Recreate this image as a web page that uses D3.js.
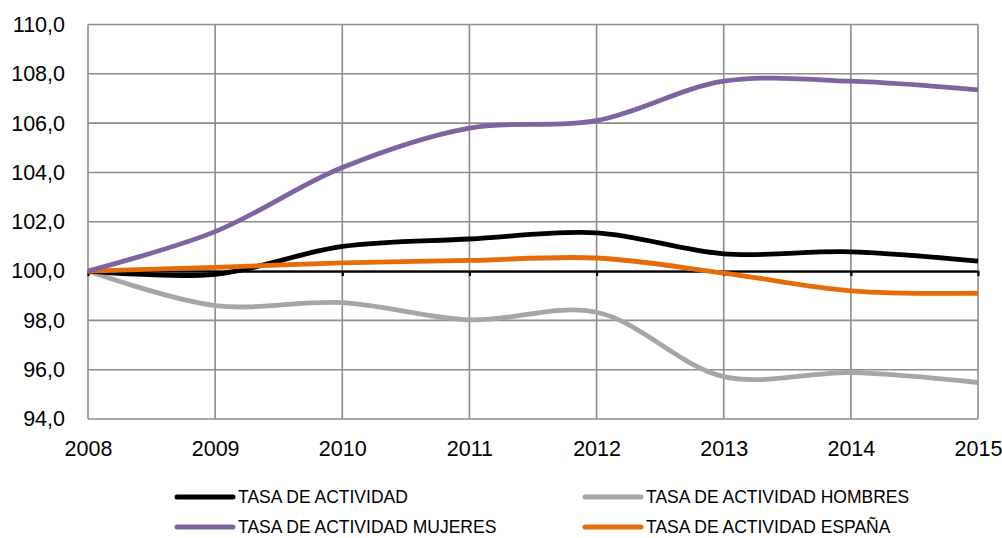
<!DOCTYPE html>
<meta charset="utf-8">
<title>Tasa de actividad</title>
<script src="https://cdn.jsdelivr.net/npm/d3@7"></script>
<style>
    body { margin: 0; background: #fff; }
    svg { font-family: "Liberation Sans", Arial, sans-serif; }
    .grid line { stroke: #8c8c8c; stroke-width: 1.6px; }
    .tick text { font-size: 21.5px; fill: #000; }
    .legend text { font-size: 17.5px; fill: #000; }
    .serie { fill: none; stroke-width: 4.8px; stroke-linecap: butt; }
</style>
<body>
<div id="chart"></div>
<script>
    // datos (indice 2008 = 100)
    var years = [2008, 2009, 2010, 2011, 2012, 2013, 2014, 2015];
    var actividad = [100.0, 99.87, 101.0, 101.3, 101.55, 100.7, 100.78, 100.4];
    var hombres   = [100.0, 98.6, 98.72, 98.02, 98.33, 95.72, 95.88, 95.48];
    var mujeres   = [100.0, 101.6, 104.2, 105.8, 106.1, 107.7, 107.7, 107.35];
    var espana    = [100.0, 100.15, 100.33, 100.43, 100.53, 99.92, 99.2, 99.1];
    var yTicks = [94, 96, 98, 100, 102, 104, 106, 108, 110];

    var series = [
        { name: "TASA DE ACTIVIDAD", values: actividad, color: "#000000" },
        { name: "TASA DE ACTIVIDAD HOMBRES", values: hombres, color: "#a6a6a6" },
        { name: "TASA DE ACTIVIDAD MUJERES", values: mujeres, color: "#8064a2" },
        { name: "TASA DE ACTIVIDAD ESPAÑA", values: espana, color: "#e46c0a" }
    ];

    var width = 1002, height = 538;
    var svg = d3.select("#chart").append("svg")
        .attr("width", width)
        .attr("height", height);

    var x = d3.scaleLinear().domain([2008, 2015]).range([88, 978]);
    var y = d3.scaleLinear().domain([94, 110]).range([419, 24.5]);

    var fmt = function (d) { return d3.format(".1f")(d).replace(".", ","); };

    // rejilla horizontal
    svg.append("g").attr("class", "grid")
        .selectAll("line").data(yTicks).enter().append("line")
        .attr("x1", x(2008)).attr("x2", x(2015))
        .attr("y1", function (d) { return y(d); })
        .attr("y2", function (d) { return y(d); });

    // rejilla vertical
    svg.append("g").attr("class", "grid")
        .selectAll("line").data(years).enter().append("line")
        .attr("x1", function (d) { return x(d); })
        .attr("x2", function (d) { return x(d); })
        .attr("y1", y(110)).attr("y2", y(94));

    // eje y
    var yAxis = svg.append("g")
        .attr("transform", "translate(" + x(2008) + ",0)")
        .call(d3.axisLeft(y).tickValues(yTicks).tickFormat(fmt).tickSize(0).tickPadding(23));
    yAxis.select(".domain").remove();

    // eje x (etiquetas abajo)
    var xAxis = svg.append("g")
        .attr("transform", "translate(0," + y(94) + ")")
        .call(d3.axisBottom(x).tickValues(years).tickFormat(d3.format("d")).tickSize(0).tickPadding(22));
    xAxis.select(".domain").remove();

    // linea de base en 100 con marcas
    var base = svg.append("g")
        .attr("transform", "translate(0," + y(100) + ")")
        .call(d3.axisBottom(x).tickValues(years).tickFormat("").tickSizeInner(5).tickSizeOuter(0));
    base.select(".domain").attr("stroke", "#000").attr("stroke-width", 2.2);
    base.selectAll(".tick line").attr("stroke", "#000").attr("stroke-width", 2.2);

    var line = d3.line()
        .x(function (d, i) { return x(years[i]); })
        .y(function (d) { return y(d); })
        .curve(d3.curveCatmullRom.alpha(0.5));

    svg.append("g").selectAll("path").data([series[1], series[0], series[3], series[2]])
        .enter().append("path")
        .attr("class", "serie")
        .attr("stroke", function (d) { return d.color; })
        .attr("d", function (d) { return line(d.values); });

    // leyenda
    var legPos = [[177, 497], [585, 497], [177, 527], [585, 527]];
    var leg = svg.append("g").attr("class", "legend")
        .selectAll("g").data(series).enter().append("g")
        .attr("transform", function (d, i) { return "translate(" + legPos[i][0] + "," + legPos[i][1] + ")"; });
    leg.append("line")
        .attr("x1", 0).attr("x2", 56)
        .attr("stroke", function (d) { return d.color; })
        .attr("stroke-width", 5)
        .attr("stroke-linecap", "round");
    leg.append("text")
        .attr("x", 61).attr("dy", "0.36em")
        .text(function (d) { return d.name; });
</script>
</body>
